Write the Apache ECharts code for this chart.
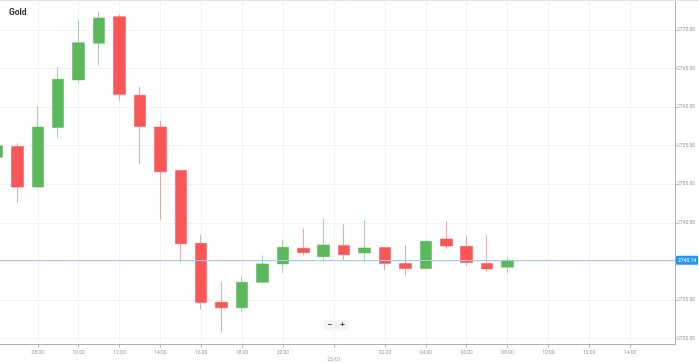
<!DOCTYPE html>
<html>
<head>
<meta charset="utf-8">
<script src="https://cdn.jsdelivr.net/npm/echarts@6/dist/echarts.min.js"></script>
<style>
html,body{margin:0;padding:0;background:#fff;}
#chart{width:699px;height:363px;}
</style>
</head>
<body>
<div id="chart"></div>
<script>
// Hourly slots on the axis (23:00 break skipped), including empty future hours
const slots = ['06:00','07:00','08:00','09:00','10:00','11:00','12:00','13:00','14:00','15:00','16:00','17:00','18:00','19:00','20:00','21:00','22:00',
  '00:00','01:00','02:00','03:00','04:00','05:00','06:00','07:00','08:00','09:00','10:00','11:00','12:00','13:00','14:00','15:00','16:00'];
// Candle values, one per slot from the start
const openV  = [2753.50,2754.89,2749.63,2757.35,2763.52,2768.27,2771.72,2761.54,2757.40,2751.78,2742.33,2734.70,2733.97,2737.28,2739.67,2741.69,2740.61,2742.04,2741.09,2741.78,2739.71,2739.06,2742.90,2741.95,2739.71,2739.23];
const closeV = [2754.98,2749.63,2757.40,2763.61,2768.35,2771.55,2761.62,2757.48,2751.61,2742.29,2734.66,2733.97,2737.28,2739.67,2741.82,2741.13,2742.13,2740.87,2741.74,2739.71,2739.06,2742.59,2741.99,2739.84,2739.02,2740.14];
const lowV   = [2753.10,2747.64,2749.55,2755.92,2763.10,2765.38,2760.84,2752.65,2745.40,2739.87,2733.75,2730.81,2733.40,2737.12,2738.50,2740.78,2739.96,2740.13,2739.87,2738.80,2738.19,2738.93,2741.61,2739.45,2738.67,2738.50];
const highV  = [2755.60,2755.33,2760.07,2765.25,2771.29,2772.33,2771.98,2762.66,2758.22,2751.85,2743.46,2737.34,2738.15,2740.78,2742.81,2744.24,2745.53,2744.79,2745.40,2741.85,2742.08,2742.70,2745.18,2743.24,2743.37,2740.52];
const currentPrice = 2740.14;
// Tick labels
const xTickLabels = ['08:00','10:00','12:00','14:00','16:00','18:00','20:00','25/01','02:00','04:00','06:00','08:00','10:00','12:00','14:00'];
const dayBreakLabel = '25/01';
const yTickValues = [2730,2735,2740,2745,2750,2755,2760,2765,2770];
const yLabelValues = [2730,2735,2745,2750,2755,2760,2765,2770];

// derive x positions of tick labels from slots
const dayStart = slots.indexOf('00:00');
const tickPos = [];
const tickText = {};
let searchFrom = 0;
xTickLabels.forEach(function(lbl){
  let pos;
  if (lbl === dayBreakLabel) { pos = dayStart - 0.5; searchFrom = dayStart; }
  else { pos = slots.indexOf(lbl, searchFrom); searchFrom = pos + 1; }
  tickPos.push(pos);
  tickText[pos] = lbl === dayBreakLabel ? '\n' + lbl : lbl;
});

const candleData = openV.map(function(o, i){ return [i, o, closeV[i], lowV[i], highV[i]]; });

const chart = echarts.init(document.getElementById('chart'), null, {renderer:'canvas'});
chart.setOption({
  animation: false,
  title: {
    text: 'Gold', left: 9, top: 8, padding: 0,
    textStyle: {fontSize: 8.5, fontWeight: 'bold', color: '#333', fontFamily: 'Roboto'}
  },
  grid: {left: 0, right: 24, top: 0, bottom: 18.5, containLabel: false},
  xAxis: {
    type: 'value', min: 0.149, max: 33.2,
    axisLine: {show: true, lineStyle: {color: '#b0b0b0', width: 1}},
    axisTick: {show: true, length: 3, customValues: tickPos, lineStyle: {color: '#b0b0b0'}},
    splitLine: {show: true, lineStyle: {color: '#f3f3f3', width: 1}},
    axisLabel: {
      customValues: tickPos, fontSize: 5, color: '#999', margin: 4.5, lineHeight: 7, fontFamily: 'Roboto',
      formatter: function(v){ return tickText[v] !== undefined ? tickText[v] : ''; }
    }
  },
  yAxis: {
    type: 'value', position: 'right', min: 2729.22, max: 2773.88, scale: true,
    axisLine: {show: true, lineStyle: {color: '#b0b0b0', width: 1}},
    axisTick: {show: true, length: 2, customValues: yTickValues, lineStyle: {color: '#b0b0b0'}},
    splitLine: {show: true, lineStyle: {color: '#f3f3f3', width: 1}},
    axisLabel: {
      customValues: yLabelValues, fontSize: 5, color: '#999', margin: 2, fontFamily: 'Roboto',
      formatter: function(v){ return v.toFixed(2); }
    }
  },
  series: [{
    type: 'candlestick',
    data: candleData,
    encode: {x: 0, y: [1, 2, 3, 4]},
    barWidth: 12,
    itemStyle: {
      color: '#5cb85c', color0: '#f95757',
      borderColor: 'rgba(92,184,92,0.55)', borderColor0: 'rgba(249,87,87,0.55)',
      borderWidth: 1
    },
    markLine: {
      silent: true, symbol: ['none','none'],
      lineStyle: {color: '#9ccff5', type: 'solid', width: 1},
      label: {
        position: 'end', formatter: currentPrice.toFixed(2), distance: 1,
        backgroundColor: '#2196f3', color: '#fff', fontSize: 5, padding: [2, 2], borderRadius: 1, fontFamily: 'Roboto'
      },
      data: [{yAxis: currentPrice}]
    }
  }],
  graphic: [
    {type: 'line', shape: {x1: 0, y1: 0.5, x2: 699, y2: 0.5}, style: {stroke: '#e2e2e2', lineWidth: 1}, z: 100},
    {type: 'group', left: 325, top: 321, children: [
      {type: 'rect', shape: {x: 0, y: 0, width: 10, height: 8, r: 1}, style: {fill: '#f5f5f5', shadowBlur: 2, shadowColor: 'rgba(0,0,0,0.2)'}},
      {type: 'text', x: 5, y: 4, style: {text: '−', fontSize: 8, fontWeight: 'bold', fill: '#444', align: 'center', verticalAlign: 'middle'}},
      {type: 'rect', shape: {x: 12, y: 0, width: 11, height: 8, r: 1}, style: {fill: '#f5f5f5', shadowBlur: 2, shadowColor: 'rgba(0,0,0,0.2)'}},
      {type: 'text', x: 17.5, y: 4, style: {text: '+', fontSize: 8, fontWeight: 'bold', fill: '#444', align: 'center', verticalAlign: 'middle'}}
    ]}
  ]
});
</script>
</body>
</html>
